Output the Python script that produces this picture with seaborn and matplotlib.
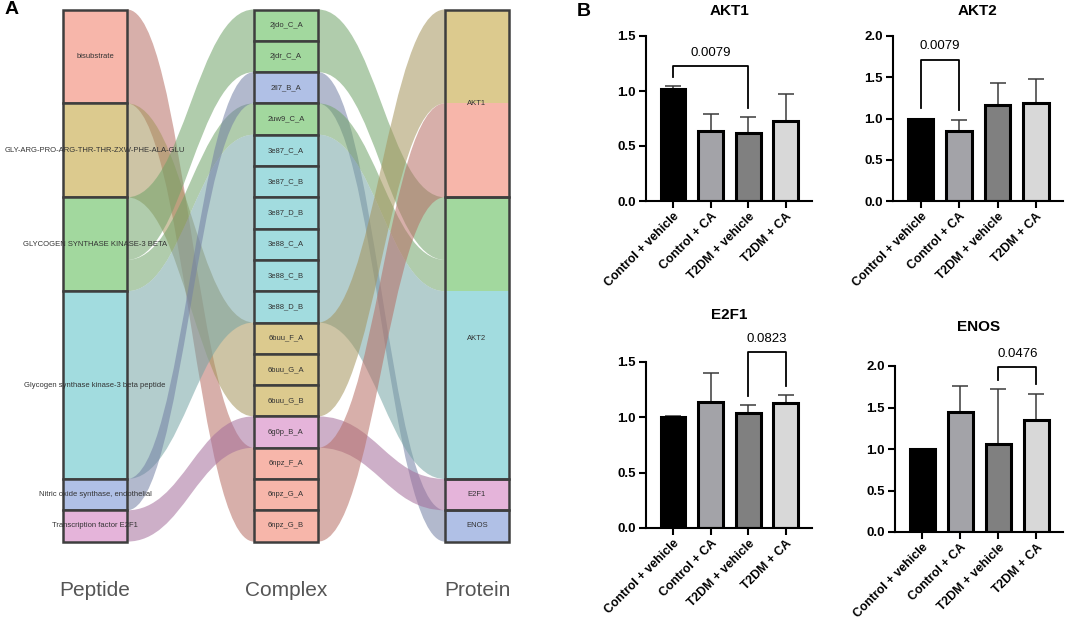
import numpy as np
import pandas as pd
import matplotlib
matplotlib.use("Agg")
import matplotlib.pyplot as plt
import seaborn as sns
from matplotlib.path import Path
from matplotlib.patches import PathPatch, Rectangle

# ---------------- data: panel A (alluvial) ----------------
peptides = ["bisubstrate",
            "GLY-ARG-PRO-ARG-THR-THR-ZXW-PHE-ALA-GLU",
            "GLYCOGEN SYNTHASE KINASE-3 BETA",
            "Glycogen synthase kinase-3 beta peptide",
            "Nitric oxide synthase, endothelial",
            "Transcription factor E2F1"]
peptide_colors = ["#F7B6AA", "#DCCA8E", "#A2D89E", "#A2DCDF", "#B0C0E6", "#E5B4DA"]
flow_colors = ["#B66E64", "#A4945B", "#6FA268", "#76A4A4", "#7380A4", "#A46E9B"]

complexes = ["2jdo_C_A", "2jdr_C_A", "2ll7_B_A", "2uw9_C_A",
             "3e87_C_A", "3e87_C_B", "3e87_D_B", "3e88_C_A", "3e88_C_B", "3e88_D_B",
             "6buu_F_A", "6buu_G_A", "6buu_G_B", "6g0p_B_A",
             "6npz_F_A", "6npz_G_A", "6npz_G_B"]
complex_peptide = ["GLYCOGEN SYNTHASE KINASE-3 BETA", "GLYCOGEN SYNTHASE KINASE-3 BETA",
                   "Nitric oxide synthase, endothelial", "GLYCOGEN SYNTHASE KINASE-3 BETA"] + \
                  ["Glycogen synthase kinase-3 beta peptide"] * 6 + \
                  ["GLY-ARG-PRO-ARG-THR-THR-ZXW-PHE-ALA-GLU"] * 3 + \
                  ["Transcription factor E2F1"] + ["bisubstrate"] * 3
complex_protein = ["AKT2", "AKT2", "ENOS", "AKT2"] + ["AKT2"] * 6 + ["AKT1"] * 3 + ["E2F1"] + ["AKT1"] * 3
proteins = ["AKT1", "AKT2", "E2F1", "ENOS"]
axis_titles = ["Peptide", "Complex", "Protein"]

# ---------------- data: panel B (bar charts) ----------------
groups = ["Control + vehicle", "Control + CA", "T2DM + vehicle", "T2DM + CA"]
akt1_mean = [1.015, 0.64, 0.62, 0.73]
akt1_err = [0.03, 0.15, 0.14, 0.24]
akt2_mean = [1.0, 0.845, 1.16, 1.185]
akt2_err = [0.0, 0.14, 0.27, 0.29]
e2f1_mean = [1.003, 1.14, 1.035, 1.13]
e2f1_err = [0.006, 0.265, 0.075, 0.07]
enos_mean = [1.0, 1.445, 1.065, 1.35]
enos_err = [0.0, 0.32, 0.655, 0.315]
bar_colors = ["#000000", "#A2A2A9", "#808080", "#D8D8D8"]
# (group i, group j, label, bracket height, leg end i, leg end j)
akt1_cmp = (0, 2, "0.0079", 1.227, 1.13, 0.85)
akt2_cmp = (0, 1, "0.0079", 1.714, 1.133, 1.109)
e2f1_cmp = (2, 3, "0.0823", 1.586, 1.195, 1.285)
enos_cmp = (2, 3, "0.0476", 1.99, 1.835, 1.787)

plt.rcParams["font.family"] = ["Liberation Sans", "DejaVu Sans"]

W, H = 1065, 622
fig = plt.figure(figsize=(W / 100, H / 100), dpi=100)

# ================= panel A =================
axA = fig.add_axes([0, 0, 540 / W, 1])
axA.set_xlim(0, 540)
axA.set_ylim(H, 0)
axA.axis("off")

col_x = [63, 254, 445]
col_w = 64
y_top = 9.5
unit = 31.3
pcol = dict(zip(peptides, peptide_colors))
fcol = dict(zip(peptides, flow_colors))

mid_slot = {c: i for i, c in enumerate(complexes)}
left_slot, right_slot = {}, {}
k = 0
for p in peptides:
    for c, cp in zip(complexes, complex_peptide):
        if cp == p:
            left_slot[c] = k
            k += 1
k = 0
for pr in proteins:
    for c, cpr in zip(complexes, complex_protein):
        if cpr == pr:
            right_slot[c] = k
            k += 1
cpep = dict(zip(complexes, complex_peptide))


def band(ax, x0, ya0, yb0, x1, ya1, yb1, color, kk=0.45):
    dx = x1 - x0
    verts = [(x0, ya0), (x0 + kk * dx, ya0), (x1 - kk * dx, ya1), (x1, ya1),
             (x1, yb1), (x1 - kk * dx, yb1), (x0 + kk * dx, yb0), (x0, yb0), (x0, ya0)]
    codes = [Path.MOVETO, Path.CURVE4, Path.CURVE4, Path.CURVE4,
             Path.LINETO, Path.CURVE4, Path.CURVE4, Path.CURVE4, Path.CLOSEPOLY]
    ax.add_patch(PathPatch(Path(verts, codes), facecolor=color, edgecolor="none",
                           alpha=0.55, zorder=1))


def runs(src, dst):
    order = sorted(complexes, key=lambda c: src[c])
    out = []
    for c in order:
        if out and out[-1][3] == cpep[c] and src[c] == out[-1][0] + out[-1][2] \
                and dst[c] == out[-1][1] + out[-1][2]:
            out[-1][2] += 1
        else:
            out.append([src[c], dst[c], 1, cpep[c]])
    return out


for s, d, n, p in runs(left_slot, mid_slot):
    band(axA, col_x[0] + col_w, y_top + s * unit, y_top + (s + n) * unit,
         col_x[1], y_top + d * unit, y_top + (d + n) * unit, fcol[p])
for s, d, n, p in runs(mid_slot, right_slot):
    band(axA, col_x[1] + col_w, y_top + s * unit, y_top + (s + n) * unit,
         col_x[2], y_top + d * unit, y_top + (d + n) * unit, fcol[p])

edge = "#3E3E3E"
lab_kw = dict(ha="center", va="center", fontsize=5.5, color="#333333", zorder=5)
# left strata
k = 0
for p in peptides:
    n = complex_peptide.count(p)
    axA.add_patch(Rectangle((col_x[0], y_top + k * unit), col_w, n * unit,
                            facecolor=pcol[p], edgecolor=edge, lw=1.8, zorder=3))
    axA.text(col_x[0] + col_w / 2, y_top + (k + n / 2) * unit, p, **lab_kw)
    k += n
# middle strata
for i, c in enumerate(complexes):
    axA.add_patch(Rectangle((col_x[1], y_top + i * unit), col_w, unit,
                            facecolor=pcol[cpep[c]], edgecolor=edge, lw=1.8, zorder=3))
    axA.text(col_x[1] + col_w / 2, y_top + (i + 0.5) * unit, c, **lab_kw)
# right strata
k = 0
for pr in proteins:
    members = sorted([c for c in complexes if complex_protein[mid_slot[c]] == pr],
                     key=lambda c: right_slot[c])
    for c in members:
        axA.add_patch(Rectangle((col_x[2], y_top + right_slot[c] * unit), col_w, unit,
                                facecolor=pcol[cpep[c]], edgecolor="none", lw=0, zorder=3))
    n = len(members)
    axA.add_patch(Rectangle((col_x[2], y_top + k * unit), col_w, n * unit,
                            facecolor="none", edgecolor=edge, lw=1.8, zorder=4))
    axA.text(col_x[2] + col_w / 2, y_top + (k + n / 2) * unit, pr, **lab_kw)
    k += n

for x, t in zip(col_x, axis_titles):
    axA.text(x + col_w / 2, 591, t, ha="center", va="center", fontsize=15, color="#555555")

fig.text(5 / W, 1 - 10 / H, "A", fontsize=14, fontweight="bold", va="center", ha="left")
fig.text(577 / W, 1 - 11 / H, "B", fontsize=14, fontweight="bold", va="center", ha="left")

# ================= panel B =================
panels = [
    ("AKT1", akt1_mean, akt1_err, akt1_cmp, (646, 812, 36, 201), 1.5, 15),
    ("AKT2", akt2_mean, akt2_err, akt2_cmp, (893, 1063, 36, 201), 2.0, 15),
    ("E2F1", e2f1_mean, e2f1_err, e2f1_cmp, (646, 812, 362, 528), 1.5, 31),
    ("ENOS", enos_mean, enos_err, enos_cmp, (895, 1063, 366, 532), 2.0, 25),
]
for title, mean, err, cmp_, (l, r, t, b), ytop, pad in panels:
    ax = fig.add_axes([l / W, 1 - b / H, (r - l) / W, (b - t) / H])
    df = pd.DataFrame({"group": groups, "value": mean})
    sns.barplot(data=df, x="group", y="value", hue="group", palette=bar_colors,
                legend=False, width=0.66, edgecolor="black", linewidth=2.2, ax=ax, zorder=2)
    ax.errorbar(np.arange(len(groups)), mean, yerr=[np.zeros(len(err)), err], fmt="none",
                ecolor="#3a3a3a", elinewidth=1.1, capsize=5.5, capthick=1.1, zorder=1.5)
    ax.set_xlim(-0.72, 3.7)
    ax.set_ylim(0, ytop)
    ax.set_yticks(np.arange(0, ytop + 0.01, 0.5))
    ax.set_yticklabels([f"{v:.1f}" for v in np.arange(0, ytop + 0.01, 0.5)],
                       fontsize=9.5, fontweight="bold")
    ax.set_xticks(range(len(groups)))
    ax.set_xticklabels(groups, rotation=45, ha="right", va="top", rotation_mode="anchor",
                       fontsize=8.8, fontweight="bold")
    ax.set_xlabel("")
    ax.set_ylabel("")
    for s in ["top", "right"]:
        ax.spines[s].set_visible(False)
    for s in ["left", "bottom"]:
        ax.spines[s].set_linewidth(1.5)
        ax.spines[s].set_color("black")
    ax.tick_params(direction="out", length=5, width=1.5, colors="black", pad=2.5)
    ax.tick_params(axis="x", pad=2)
    ax.set_title(title, fontsize=11, fontweight="bold", pad=pad)
    ax.set_facecolor("none")
    i, j, lab, yb, yi, yj = cmp_
    ax.plot([i, i, j, j], [yi, yb, yb, yj], color="black", lw=1.3, clip_on=False, zorder=4)
    ax.annotate(lab, xy=((i + j) / 2, yb), xytext=(0, 9.5), textcoords="offset points",
                ha="center", va="center", fontsize=9.5, annotation_clip=False)

fig.savefig("out.png", dpi=100, facecolor="white")
